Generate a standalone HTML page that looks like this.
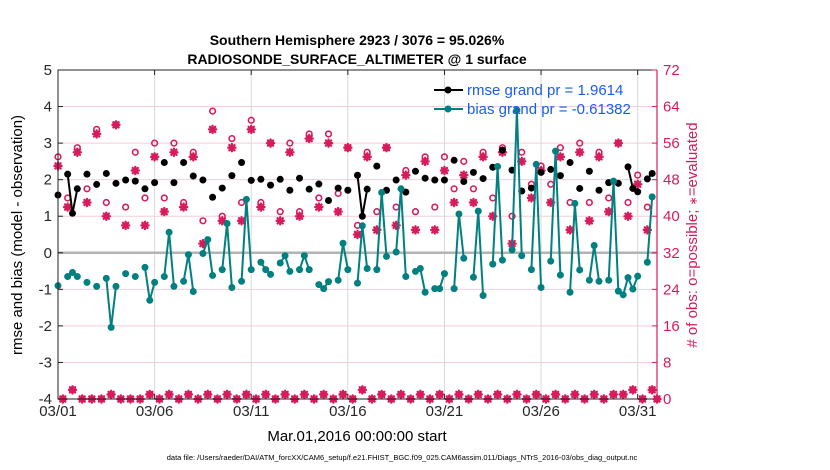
<!DOCTYPE html>
<html><head><meta charset="utf-8">
<style>
body{margin:0;background:#fff;}
svg{display:block;font-family:"Liberation Sans",Arial,sans-serif;}
</style></head>
<body>
<svg id="chart" width="830" height="470" viewBox="0 0 830 470" xmlns="http://www.w3.org/2000/svg">
<rect width="830" height="470" fill="#fff"/>
<text x="357" y="45" font-size="14" font-weight="bold" text-anchor="middle">Southern Hemisphere 2923 / 3076 = 95.026%</text>
<text x="357" y="64" font-size="14" font-weight="bold" text-anchor="middle">RADIOSONDE_SURFACE_ALTIMETER @ 1 surface</text>
<g id="grid"></g>
<g id="marks"></g>
<g id="axes"></g>
<text transform="translate(22,235) rotate(-90)" font-size="15" text-anchor="middle">rmse and bias (model - observation)</text>
<text transform="translate(697,235) rotate(-90)" font-size="15" text-anchor="middle" fill="#d81b5c"># of obs: o=possible; <tspan font-size="11">∗</tspan>=evaluated</text>
<text x="357" y="441" font-size="15" text-anchor="middle">Mar.01,2016 00:00:00 start</text>
<text x="402" y="460" font-size="7.5" text-anchor="middle">data file: /Users/raeder/DAI/ATM_forcXX/CAM6_setup/f.e21.FHIST_BGC.f09_025.CAM6assim.011/Diags_NTrS_2016-03/obs_diag_output.nc</text>
<g>
<line x1="434" y1="90" x2="463" y2="90" stroke="#000" stroke-width="2"/>
<circle cx="448" cy="90" r="3.5" fill="#000"/>
<text x="467" y="95" font-size="15" fill="#1a5cf0">rmse grand pr = 1.9614</text>
<line x1="434" y1="109" x2="463" y2="109" stroke="#008080" stroke-width="2"/>
<circle cx="448" cy="109" r="3.5" fill="#008080"/>
<text x="467" y="114" font-size="15" fill="#1a5cf0">bias grand pr = -0.61382</text>
</g>
</svg>
<script>
const N = null;
const rmse = [1.58,N,2.15,1.08,1.75,N,2.15,N,1.87,N,2.17,N,1.90,N,1.99,N,1.96,N,1.75,N,
1.92,N,2.47,N,1.92,N,2.47,N,2.10,N,1.99,N,1.52,N,1.77,N,2.11,N,2.47,N,
1.98,N,2.01,N,1.85,N,2.01,N,1.71,N,2.04,N,1.74,N,1.88,N,1.43,N,1.77,N,
1.71,N,2.12,1.00,1.74,N,2.37,N,1.71,N,1.99,N,1.66,N,2.23,N,2.04,N,1.99,N,
1.99,N,2.53,N,1.95,N,2.20,N,2.03,N,2.34,N,2.81,N,2.26,N,1.69,N,1.77,N,
2.20,N,2.28,N,2.11,N,2.47,N,1.76,N,2.23,N,1.71,N,1.92,N,1.90,N,2.35,1.76,
1.67,N,2.02,2.17,N];
const bias = [-0.90,N,-0.65,-0.54,-0.65,N,-0.81,N,-0.92,N,-0.70,-2.04,-0.92,N,-0.57,N,-0.65,N,-0.40,-1.30,
-0.81,N,-0.65,0.56,-0.92,N,-0.78,-0.05,-1.06,N,-0.02,0.36,-0.62,N,-0.46,0.80,-0.95,N,-0.78,1.46,
-0.46,N,-0.26,-0.46,-0.59,N,-0.28,-0.08,-0.51,N,-0.46,-0.08,-0.46,N,-0.87,-0.98,-0.79,N,-0.75,0.26,
-0.46,N,-0.83,0.74,-0.43,N,-0.46,1.65,-0.10,N,0.02,1.75,-0.65,N,-0.51,-0.43,-1.08,N,-0.98,-0.98,
-0.57,N,-0.98,1.06,-0.15,N,-0.67,1.14,-1.17,N,-0.31,2.36,-0.20,N,0.08,3.90,-0.08,N,-0.46,2.42,
-0.95,N,-0.23,2.78,-0.61,N,-1.08,1.35,-0.47,N,-0.75,0.20,-0.78,N,-0.75,1.96,-1.05,-1.15,-0.68,-0.99,
-0.64,N,-0.26,1.53,N];
const possible = [53,0,44,2,55,0,46,0,59,0,43,1,60,0,42,0,54,0,44,1,
56,0,44,1,56,0,43,1,54,0,39,1,63,0,40,1,57,0,43,1,
61,0,43,1,56,0,41,1,56,0,41,1,58,0,44,1,58,0,45,1,
55,0,38,2,54,0,41,1,55,0,42,1,50,0,41,1,53,0,42,1,
53,0,46,1,52,0,46,1,54,0,44,1,55,0,40,1,54,0,47,1,
51,0,47,1,55,0,43,1,56,0,43,1,54,0,44,1,56,1,43,2,
49,0,42,2,0];
const evaluated = [51,0,42,2,54,0,43,0,58,0,40,1,60,0,38,0,50,0,38,1,
53,0,41,1,54,0,42,1,53,0,34,1,59,0,39,1,55,0,39,1,
59,0,42,1,56,0,39,1,54,0,40,1,57,0,42,1,56,0,41,1,
55,0,36,2,53,0,37,1,55,0,38,1,49,0,37,1,52,0,37,1,
50,0,43,1,49,0,43,1,53,0,40,1,54,0,34,1,52,0,44,1,
50,0,43,1,53,0,37,1,54,0,39,1,53,0,41,1,56,1,40,2,
47,0,37,2,0];
const xTickLabels = ["03/01","03/06","03/11","03/16","03/21","03/26","03/31"];
const xTickDays = [0,5,10,15,20,25,30];
const yTicks = [-4,-3,-2,-1,0,1,2,3,4,5];
const y2Ticks = [0,8,16,24,32,40,48,56,64,72];

const L=58,R=657,T=70,B=399;
const xDay = d => L + d*(R-L)/31;
const xBin = k => xDay(k*0.25);
const yL = v => B - (v+4)*(B-T)/9;
const yR = c => B - c*(B-T)/72;
const NS="http://www.w3.org/2000/svg";
function mk(parent,tag,attrs){const e=document.createElementNS(NS,tag);for(const a in attrs)e.setAttribute(a,attrs[a]);parent.appendChild(e);return e;}
const grid=document.getElementById('grid'),marks=document.getElementById('marks'),axes=document.getElementById('axes');
const PINK="#d81b5c";

y2Ticks.forEach(c=>{if(c>0&&c<72){const g=mk(grid,'line',{x1:L,x2:R,y1:yR(c),y2:yR(c),stroke:'#f4cddc','stroke-width':1});

}});
xTickDays.forEach(d=>{if(d>0){const g=mk(grid,'line',{x1:xDay(d),x2:xDay(d),y1:T,y2:B,stroke:'#d9d9d9','stroke-width':1});

}});
const zl=mk(grid,'line',{x1:L,x2:R,y1:yL(0),y2:yL(0),stroke:'#b3b3b3','stroke-width':2.5});



function drawCount(k,c,type){
  const x=xBin(k),y=yR(c);
  if(type==='o'){const e=mk(marks,'circle',{cx:x,cy:y,r:2.8,fill:'none',stroke:PINK,'stroke-width':1.6});
    
    }
  else{const g=mk(marks,'g',{stroke:PINK,'stroke-width':2.3,'stroke-linecap':'round'});
    
    
    const s=3.6,d=2.6;
    mk(g,'line',{x1:x,y1:y-s,x2:x,y2:y+s});mk(g,'line',{x1:x-s,y1:y,x2:x+s,y2:y});
    mk(g,'line',{x1:x-d,y1:y-d,x2:x+d,y2:y+d});mk(g,'line',{x1:x-d,y1:y+d,x2:x+d,y2:y-d});}
}
possible.forEach((c,k)=>{if(c!==null)drawCount(k,c,'o');});
evaluated.forEach((c,k)=>{if(c!==null)drawCount(k,c,'*');});

function drawSeries(arr,color,name){
  for(let k=0;k<arr.length-1;k++){
    if(arr[k]!==null&&arr[k+1]!==null){const l=mk(marks,'line',{x1:xBin(k),y1:yL(arr[k]),x2:xBin(k+1),y2:yL(arr[k+1]),stroke:color,'stroke-width':2});
      
      }
  }
  arr.forEach((v,k)=>{if(v!==null){const c=mk(marks,'circle',{cx:xBin(k),cy:yL(v),r:3.5,fill:color});
    
    }});
}
drawSeries(rmse,'#000','rmse');
drawSeries(bias,'#008080','bias');

const ab=mk(axes,'path',{d:`M${R},${T}H${L}V${B}H${R}`,fill:'none',stroke:'#222','stroke-width':1});


const ra=mk(axes,'line',{x1:R,x2:R,y1:T,y2:B,stroke:PINK,'stroke-width':1.2});


yTicks.forEach(v=>{
  mk(axes,'line',{x1:L,x2:L+5,y1:yL(v),y2:yL(v),stroke:'#222'});
  const t=mk(axes,'text',{x:L-6,y:yL(v)+5,'font-size':15,'text-anchor':'end',fill:'#262626'});
  t.textContent=v;
  
  
});
y2Ticks.forEach(c=>{
  mk(axes,'line',{x1:R-5,x2:R,y1:yR(c),y2:yR(c),stroke:PINK});
  const t=mk(axes,'text',{x:R+6,y:yR(c)+5,'font-size':15,fill:PINK});
  t.textContent=c;
  
  
});
xTickDays.forEach((d,i)=>{
  mk(axes,'line',{x1:xDay(d),x2:xDay(d),y1:B,y2:B-5,stroke:'#222'});
  mk(axes,'line',{x1:xDay(d),x2:xDay(d),y1:T,y2:T+5,stroke:'#222'});
  const t=mk(axes,'text',{x:xDay(d),y:B+17,'font-size':15,'text-anchor':'middle',fill:'#262626'});
  t.textContent=xTickLabels[i];
  
  
});
</script>
</body></html>
